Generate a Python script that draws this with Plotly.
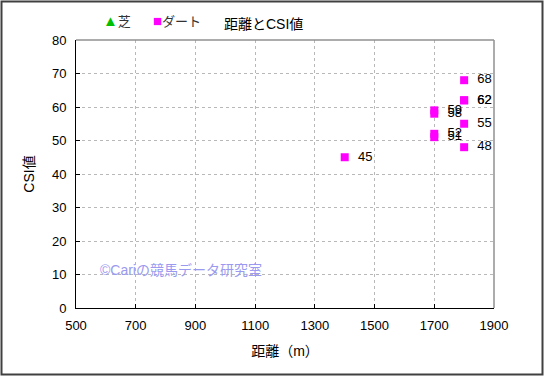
import plotly.graph_objects as go

dirt_dist = [1400, 1700, 1700, 1700, 1700, 1800, 1800, 1800, 1800, 1800]
dirt_csi = [45, 59, 58, 52, 51, 68, 62, 62, 55, 48]
turf_dist = []
turf_csi = []

x_ticks = [500, 700, 900, 1100, 1300, 1500, 1700, 1900]
y_ticks = [0, 10, 20, 30, 40, 50, 60, 70, 80]

FONT = "Liberation Sans, Noto Sans CJK JP, sans-serif"
W, H = 545, 377
L, R, T, B = 76, 51, 40, 69
pw, ph = W - L - R, H - T - B

fig = go.Figure()
fig.add_trace(go.Scatter(
    x=dirt_dist, y=dirt_csi, mode="markers+text",
    marker=dict(symbol="square", size=8, color="#ff00ff"),
    text=["  " + str(v) for v in dirt_csi], textposition="middle right",
    textfont=dict(size=13, color="#000000", family=FONT),
    showlegend=False, cliponaxis=False,
))
fig.add_trace(go.Scatter(
    x=turf_dist, y=turf_csi, mode="markers",
    marker=dict(symbol="triangle-up", size=8, color="#00cc00"),
    showlegend=False,
))

def px_x(p):
    return (p - L) / pw

def px_y(p):
    return (H - B - p) / ph

shapes = [
    dict(type="rect", xref="paper", yref="paper",
         x0=px_x(1.5), x1=px_x(542.5), y0=px_y(1.5), y1=px_y(374.5),
         line=dict(color="#404040", width=2), layer="below"),
    dict(type="line", xref="paper", yref="paper", x0=0, x1=1, y0=1, y1=1,
         line=dict(color="#909090", width=1.5)),
    dict(type="line", xref="paper", yref="paper", x0=1, x1=1, y0=0, y1=1,
         line=dict(color="#909090", width=1.5)),
]

annotations = [
    dict(text="距離とCSI値", xref="paper", yref="paper", x=px_x(263), y=px_y(24),
         xanchor="center", yanchor="middle", showarrow=False,
         font=dict(size=14, color="#000000", family=FONT)),
    dict(text="<span style='color:#00c000;font-size:15px'>▲</span>芝",
         xref="paper", yref="paper", x=px_x(101), y=px_y(20),
         xanchor="left", yanchor="middle", showarrow=False,
         font=dict(size=13, color="#333333", family=FONT)),
    dict(text="<span style='color:#ff00ff;font-size:15px'>■</span>ダート",
         xref="paper", yref="paper", x=px_x(151), y=px_y(20),
         xanchor="left", yanchor="middle", showarrow=False,
         font=dict(size=13, color="#333333", family=FONT)),
    dict(text="©Cariの競馬データ研究室", xref="paper", yref="paper",
         x=px_x(98), y=px_y(270), xanchor="left", yanchor="middle", showarrow=False,
         font=dict(size=14, color="#9a9af0", family=FONT)),
]

fig.update_layout(
    width=W, height=H,
    margin=dict(l=L, r=R, t=T, b=B),
    paper_bgcolor="#ffffff", plot_bgcolor="#ffffff",
    font=dict(family=FONT, size=12, color="#000000"),
    shapes=shapes, annotations=annotations,
    xaxis=dict(
        range=[500, 1900], tickvals=x_ticks, ticktext=[str(v) for v in x_ticks],
        showgrid=True, gridcolor="#b8b8b8", griddash="dot", gridwidth=1,
        showline=True, linecolor="#000000", linewidth=1,
        ticks="inside", ticklen=4, tickcolor="#000000",
        zeroline=False, tickfont=dict(size=13, family=FONT), ticklabelstandoff=5,
        title=dict(text="距離（m）", font=dict(size=14, family=FONT), standoff=14),
    ),
    yaxis=dict(
        range=[0, 80], tickvals=y_ticks, ticktext=[str(v) for v in y_ticks],
        showgrid=True, gridcolor="#b8b8b8", griddash="dot", gridwidth=1,
        showline=True, linecolor="#000000", linewidth=1,
        ticks="inside", ticklen=4, tickcolor="#000000",
        zeroline=False, tickfont=dict(size=13, family=FONT), ticklabelstandoff=6,
        title=dict(text="CSI値", font=dict(size=14, family=FONT), standoff=14),
    ),
)

fig.write_html("out.html", config={"displayModeBar": False},
               post_script="document.body.style.margin='0';")
